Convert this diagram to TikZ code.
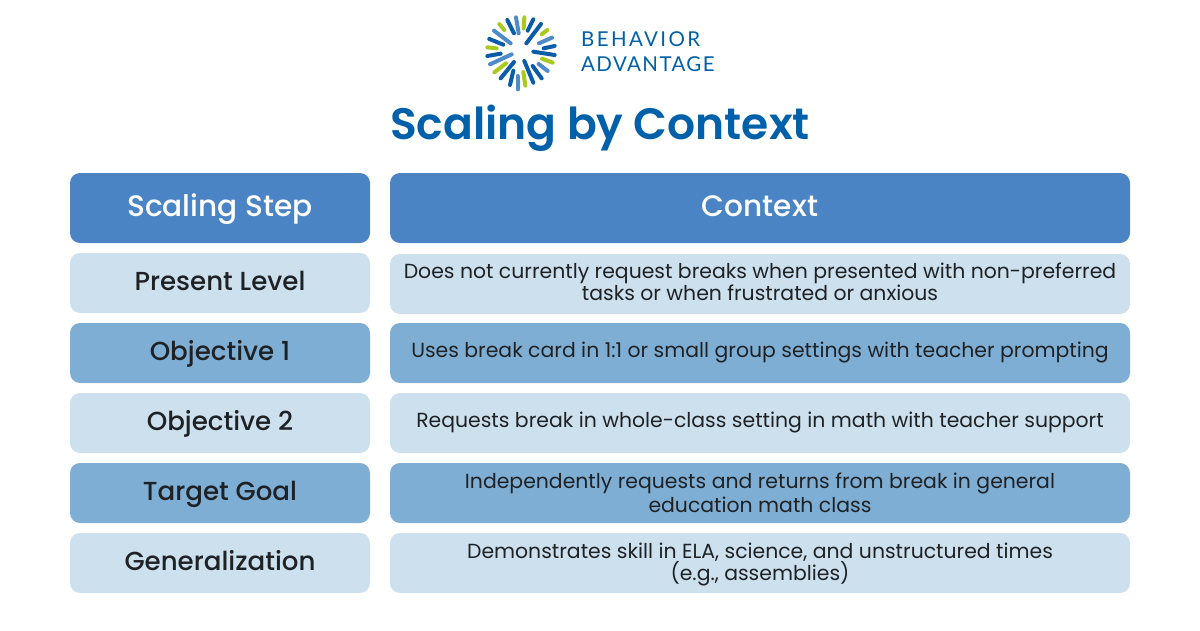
\documentclass[tikz,border=0pt]{standalone}
\usepackage{fontspec}
\setmainfont{Poppins}
\newfontfamily\medfont{Poppins Medium}
\newfontfamily\semifont{Poppins SemiBold}
\newfontfamily\logofonta[LetterSpace=11.5]{Lato}
\newfontfamily\logofontb[LetterSpace=6.8]{Lato}
\definecolor{hdr}{HTML}{4A84C4}
\definecolor{lite}{HTML}{CDE0EE}
\definecolor{midb}{HTML}{7FAED4}
\definecolor{ink}{HTML}{1F2225}
\definecolor{brand}{HTML}{0060A9}
\definecolor{rayd}{HTML}{0B5CA8}
\definecolor{raym}{HTML}{4F8AC9}
\definecolor{rayg}{HTML}{A9C91F}
\newcommand{\topstrut}[1]{\rule{0pt}{#1pt}}
\newcommand{\botstrut}{\rule[-6pt]{0pt}{6pt}}
\tikzset{
  x=1pt,y=-1pt,
  cellbox/.style={rounded corners=10pt,draw=none,anchor=center,align=center,inner sep=0pt},
  headcell/.style={cellbox,fill=hdr,text=white,minimum height=70pt,text height=26pt,text depth=10pt,font=\medfont\fontsize{29.6}{34}\selectfont},
  stepname/.style={cellbox,minimum width=300pt,minimum height=60pt,text=ink,text height=20pt,text depth=6pt,font=\medfont\fontsize{26.1}{30}\selectfont},
  ctxtext/.style={cellbox,minimum width=740pt,minimum height=60pt,text=ink,font=\fontsize{20.4}{22}\selectfont},
  lightrow/.style={fill=lite},
  midrow/.style={fill=midb},
  ray/.style={line width=4pt,line cap=round},
  rd/.style={ray,draw=rayd},
  rm/.style={ray,draw=raym},
  rg/.style={ray,draw=rayg},
  brandtext/.style={anchor=base west,text=brand,inner sep=0pt},
}
\begin{document}
\begin{tikzpicture}
\useasboundingbox (0,0) rectangle (1200,630);
% logo rays
\begin{scope}[shift={(480,10)},x=0.3333pt,y=-0.3333pt]
\draw[rm] (108,22)--(116,70);
\draw[rg] (133,22)--(131,55);
\draw[rd] (160,28)--(143,62);
\draw[rd] (183,42)--(139,100);
\draw[rg] (202,60)--(185,73);
\draw[rm] (216,83)--(177,100);
\draw[rd] (224,108)--(191,115);
\draw[rd] (224,135)--(160,125);
\draw[rg] (218,158)--(186,146);
\draw[rm] (203,183)--(176,162);
\draw[rd] (185,205)--(158,168);
\draw[rd] (160,218)--(133,153);
\draw[rg] (136,227)--(130,186);
\draw[rm] (113,238)--(113,198);
\draw[rd] (90,225)--(100,182);
\draw[rd] (62,205)--(102,156);
\draw[rg] (43,187)--(78,160);
\draw[rm] (30,163)--(95,133);
\draw[rd] (22,138)--(62,131);
\draw[rg] (22,112)--(50,115);
\draw[rd] (28,87)--(70,104);
\draw[rm] (42,62)--(92,100);
\draw[rg] (58,42)--(73,60);
\draw[rd] (82,30)--(102,70);
\end{scope}
\node[brandtext,font=\logofonta\fontsize{20.5}{24}\selectfont] (brand1) at (581,46.5) {BEHAVIOR};
\node[brandtext,font=\logofontb\fontsize{20.5}{24}\selectfont] (brand2) at (581,71.5) {ADVANTAGE};
\node[anchor=base,text=brand,inner sep=0pt,font=\semifont\fontsize{44}{50}\selectfont] (title) at (600,139.5) {Scaling by Context};
% header
\node[headcell,minimum width=300pt] (h1) at (220,208) {Scaling Step};
\node[headcell,minimum width=740pt] (h2) at (760,208) {Context};
% left column
\node[stepname,lightrow] (s1) at (220,283) {Present Level};
\node[stepname,midrow] (s2) at (220,353) {Objective 1};
\node[stepname,lightrow] (s3) at (220,423) {Objective 2};
\node[stepname,midrow] (s4) at (220,493) {Target Goal};
\node[stepname,lightrow] (s5) at (220,563) {Generalization};
% right column
\node[ctxtext,lightrow] (c1) at (760,284) {\topstrut{16.6}Does not currently request breaks when presented with non-preferred\\tasks or when frustrated or anxious\botstrut};
\node[ctxtext,midrow] (c2) at (760,353) {\topstrut{15.4}Uses break card in 1:1 or small group settings with teacher prompting\botstrut};
\node[ctxtext,lightrow] (c3) at (760,423) {\topstrut{15.4}Requests break in whole-class setting in math with teacher support\botstrut};
\node[ctxtext,midrow] (c4) at (760,493) {\topstrut{20.8}Independently requests and returns from break in general\\[2.2pt]education math class\botstrut};
\node[ctxtext,lightrow] (c5) at (760,563) {\topstrut{19.1}Demonstrates skill in ELA, science, and unstructured times\\[0.5pt](e.g., assemblies)\botstrut};
\end{tikzpicture}
\end{document}
